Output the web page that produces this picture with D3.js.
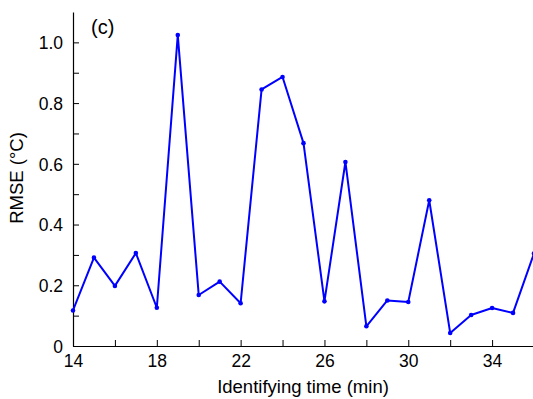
<!DOCTYPE html>
<html>
<head>
<meta charset="utf-8">
<script src="https://cdn.jsdelivr.net/npm/d3@7"></script>
<style>
  body { margin: 0; background: #fff; }
  svg { display: block; font-family: "Liberation Sans", Arial, Helvetica, sans-serif; }
</style>
</head>
<body>
<svg id="chart" width="533" height="399"></svg>
<script>
// identifying time (min)
const times = [14, 15, 16, 17, 18, 19, 20, 21, 22, 23, 24, 25, 26, 27, 28, 29, 30, 31, 32, 33, 34, 35, 36];
// RMSE (°C)
const rmse = [0.117, 0.291, 0.198, 0.306, 0.126, 1.024, 0.168, 0.212, 0.141, 0.845, 0.886, 0.668, 0.147, 0.606,
  0.065, 0.150, 0.145, 0.480, 0.043, 0.102, 0.125, 0.109, 0.305];
const xTicks = [14, 16, 18, 20, 22, 24, 26, 28, 30, 32, 34, 36];
const xLabels = [14, 18, 22, 26, 30, 34];
const yTicks = [0, 0.1, 0.2, 0.3, 0.4, 0.5, 0.6, 0.7, 0.8, 0.9, 1.0];
const yLabels = [0, 0.2, 0.4, 0.6, 0.8, 1.0];

const width = 533, height = 399;
const margin = { left: 73, right: -1, top: 12, bottom: 53 };

const svg = d3.select('#chart');

const x = d3.scaleLinear().domain([14, 36]).range([margin.left, width - margin.right]);
const y = d3.scaleLinear().domain([0, 1.1]).range([height - margin.bottom, margin.top]);

const fmtY = d => d === 0 ? '0' : d3.format('.1f')(d);

// x axis: ticks point inward
const xAxis = svg.append('g')
  .attr('transform', `translate(0,${y(0)})`)
  .call(d3.axisBottom(x).tickValues(xTicks).tickSizeInner(-6).tickSizeOuter(0)
    .tickFormat(d => xLabels.includes(d) ? d : ''));
xAxis.select('.domain').attr('stroke', '#000').attr('stroke-width', 1.2);
xAxis.selectAll('.tick line').attr('stroke', '#000');
xAxis.selectAll('.tick text').attr('dy', 0).attr('y', 21).attr('font-size', 17.5).attr('fill', '#000');

// y axis
const yAxis = svg.append('g')
  .attr('transform', `translate(${x(14)},0)`)
  .call(d3.axisLeft(y).tickValues(yTicks).tickSizeInner(-6).tickSizeOuter(0)
    .tickFormat(d => yLabels.some(v => Math.abs(v - d) < 1e-9) ? fmtY(d) : ''));
yAxis.select('.domain').attr('stroke', '#000').attr('stroke-width', 1.2);
yAxis.selectAll('.tick line').attr('stroke', '#000');
yAxis.selectAll('.tick text').attr('x', -10).attr('dy', '0.36em').attr('font-size', 17.5).attr('fill', '#000');

// clip to plot area (line runs off the right edge)
svg.append('clipPath').attr('id', 'clip')
  .append('rect').attr('x', margin.left - 5).attr('y', 0)
  .attr('width', width - margin.left + 5).attr('height', height);

const pts = times.map((t, i) => [t, rmse[i]]);
const plot = svg.append('g').attr('clip-path', 'url(#clip)');

plot.append('path')
  .datum(pts)
  .attr('fill', 'none')
  .attr('stroke', '#0000ff')
  .attr('stroke-width', 2)
  .attr('stroke-linejoin', 'round')
  .attr('d', d3.line().x(d => x(d[0])).y(d => y(d[1])));

plot.selectAll('circle')
  .data(pts)
  .enter().append('circle')
  .attr('cx', d => x(d[0]))
  .attr('cy', d => y(d[1]))
  .attr('r', 2.3)
  .attr('fill', '#0000ff');

// axis titles
svg.append('text')
  .attr('x', 303).attr('y', 393)
  .attr('text-anchor', 'middle')
  .attr('font-size', 18.5)
  .text('Identifying time (min)');

svg.append('text')
  .attr('transform', `translate(23,178) rotate(-90)`)
  .attr('text-anchor', 'middle')
  .attr('font-size', 18.5)
  .text('RMSE (°C)');

// panel label
svg.append('text')
  .attr('x', 91).attr('y', 34)
  .attr('font-size', 20)
  .text('(c)');
</script>
</body>
</html>
